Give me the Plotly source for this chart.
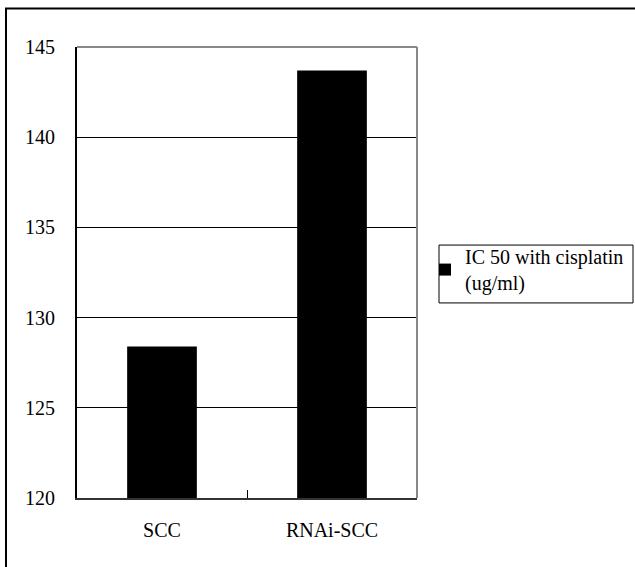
import plotly.graph_objects as go

categories = ["SCC", "RNAi-SCC"]
ic50_values = [128.4, 143.7]
series_name = "IC 50 with cisplatin<br>(ug/ml)"
y_ticks = [120, 125, 130, 135, 140, 145]

FONT = '"Liberation Serif", "Times New Roman", serif'

fig = go.Figure()
fig.add_trace(go.Bar(
    x=categories, y=ic50_values, name=series_name,
    marker=dict(color="black", line=dict(width=0)),
    width=0.41, showlegend=True,
))

L, R, T, B = 77, 417, 46.5, 498.5
W, H = 635, 567
pw, ph = R - L, B - T

def px_x(p):
    return (p - L) / pw

def px_y(p):
    return (B - p) / ph

fig.update_layout(
    width=W, height=H,
    margin=dict(l=L, r=W - R, t=T, b=H - B, pad=0, autoexpand=False),
    paper_bgcolor="white", plot_bgcolor="white",
    font=dict(family=FONT, size=19, color="black"),
    showlegend=True,
    legend=dict(
        x=px_x(425), y=px_y(237), xanchor="left", yanchor="top",
        borderwidth=0, bgcolor="rgba(0,0,0,0)",
        font=dict(family=FONT, size=20, color="black"),
        itemwidth=30,
    ),
    xaxis=dict(
        showline=True, linecolor="#333333", linewidth=2,
        ticks="inside", tickson="boundaries", ticklen=8, tickcolor="black", tickwidth=1,
        showgrid=False, ticklabelstandoff=13,
        tickfont=dict(family=FONT, size=20),
    ),
    yaxis=dict(
        range=[120, 145], tickvals=y_ticks,
        showline=True, linecolor="black", linewidth=2,
        ticks="inside", ticklen=7, tickcolor="black", tickwidth=1,
        showgrid=True, gridcolor="black", gridwidth=1,
        ticklabelstandoff=16, zeroline=False,
        tickfont=dict(family=FONT, size=20),
    ),
    bargap=0.59,
    shapes=[
        dict(type="line", xref="paper", yref="paper", x0=0, x1=1, y0=1, y1=1,
             line=dict(color="#888888", width=2)),
        dict(type="line", xref="paper", yref="paper", x0=1, x1=1, y0=0, y1=1,
             line=dict(color="#888888", width=2)),
        # legend frame
        dict(type="rect", xref="paper", yref="paper",
             x0=px_x(439), x1=px_x(633), y0=px_y(245), y1=px_y(303),
             line=dict(color="black", width=1)),
        # outer chart frame
        dict(type="rect", xref="paper", yref="paper",
             x0=px_x(6), x1=px_x(700), y0=px_y(8), y1=px_y(620),
             line=dict(color="black", width=2), layer="above"),
    ],
)

fig.write_html(
    "out.html",
    config={"displayModeBar": False},
    post_script="document.body.style.margin='0';document.body.style.padding='0';",
)
